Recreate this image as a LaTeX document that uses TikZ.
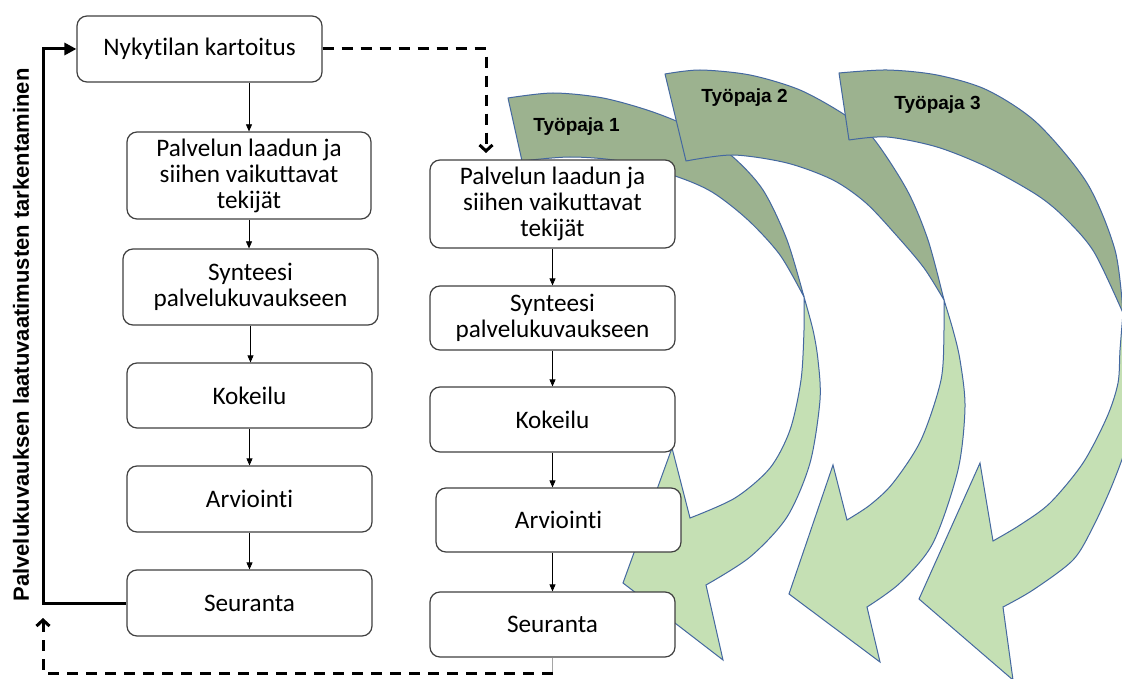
\documentclass[tikz,border=0pt]{standalone}
\usepackage{fontspec}
\setmainfont{Carlito}[Ligatures={NoCommon}]
\newfontfamily\headfont{Liberation Sans}
\usetikzlibrary{arrows.meta}
\definecolor{dkgreen}{RGB}{156,178,143}
\definecolor{ltgreen}{RGB}{197,224,180}
\definecolor{edgeblue}{RGB}{68,104,160}
\definecolor{boxline}{RGB}{64,64,64}
\definecolor{stubgray}{RGB}{165,165,165}

\begin{document}
\begin{tikzpicture}[x=1pt,y=-1pt,
  bandback/.style={fill=dkgreen, draw=edgeblue, line width=1pt, line join=round},
  bandfront/.style={fill=ltgreen, draw=edgeblue, line width=1pt, line join=miter},
  wslabel/.style={font=\headfont\bfseries\fontsize{19}{21}\selectfont},
  stepbox/.style={draw=boxline, fill=white, line width=1.2pt, rounded corners=10pt,
    align=center, inner sep=0pt, font=\fontsize{25.2}{26}\selectfont},
  flow/.style={line width=0.7pt, -{Triangle[length=7pt,width=6pt]}},
  loopline/.style={line width=3pt, line join=miter, -{Triangle[length=12pt,width=12pt]}},
  fbdash/.style={line width=3pt, dash pattern=on 11pt off 8pt,
    -{Straight Barb[length=6pt,width=13pt]}},
]
\useasboundingbox (0,0) rectangle (1122,679);
\fill[white] (0,0) rectangle (1122,679);

% three workshop arrows, each a dark back band and a light front band
\begin{scope}
\clip (0,0) rectangle (1122,679);
% workshop 1
\path[bandback] (508,98) -- plot[smooth] coordinates {(508,98) (553,93) (603,98) (653,112) (695,130) (733,157) (763,190) (787,240) (804,297)}
  -- plot[smooth] coordinates {(804,297) (780,255) (748,220) (712,192) (675,176) (620,161) (570,157) (522,161)} -- cycle;
\path[bandfront] (804,297) -- plot[smooth] coordinates {(804,297) (804,330) (801,380) (790,430) (770,468) (735,498) (690,518)}
  -- (672,448) -- (623,583) -- (723,660) -- (706,585)
  -- plot[smooth] coordinates {(706,585) (750,557) (787,517) (810,463) (820,400) (818,360) (813,330) (804,297)} -- cycle;
% workshop 2
\path[bandback] (665,74) -- plot[smooth] coordinates {(665,74) (700,70) (750,75) (800,90) (845,115) (873,138) (907,190) (928,240) (944,300)}
  -- plot[smooth] coordinates {(944,300) (924,268) (897,236) (866,203) (833,180) (787,163) (733,155) (686,161)} -- cycle;
\path[bandfront] (944,300) -- plot[smooth] coordinates {(944,300) (944,330) (941,380) (921,440) (893,483) (870,505) (847,520)}
  -- (833,465) -- (789,594) -- (880,662) -- (867,607)
  -- plot[smooth] coordinates {(867,607) (900,583) (933,543) (958,470) (965,407) (960,360) (953,330) (944,300)} -- cycle;
% workshop 3
\path[bandback] (839,73) -- plot[smooth] coordinates {(839,73) (887,70) (937,75) (987,90) (1037,123) (1087,183) (1115,250) (1123,313)}
  -- plot[smooth] coordinates {(1123,313) (1094,252) (1065,218) (1037,195) (987,167) (937,147) (887,137) (849,140)} -- cycle;
\path[bandfront] (1123,313) -- plot[smooth] coordinates {(1123,313) (1120,350) (1118,383) (1107,417) (1083,463) (1050,503) (1020,525) (993,541)}
  -- (980,463) -- (919,599) -- (1013,680) -- (1003,607)
  -- plot[smooth] coordinates {(1003,607) (1033,590) (1073,560) (1093,527) (1113,483) (1128,440) (1136,390) (1132,345) (1123,313)} -- cycle;
\end{scope}

\node[wslabel] (w1) at (576.5,127) {Työpaja 1};
\node[wslabel] (w2) at (744.5,98) {Työpaja 2};
\node[wslabel] (w3) at (937.5,105) {Työpaja 3};

% first round
\node[stepbox, minimum width=245pt, minimum height=66pt] (l1) at (199.5,49) {Nykytilan kartoitus};
\node[stepbox, minimum width=244pt, minimum height=87pt] (l2) at (249,175.5) {Palvelun laadun ja\\siihen vaikuttavat\\tekijät};
\node[stepbox, minimum width=255pt, minimum height=76pt] (l3) at (250.5,287) {Synteesi\\palvelukuvaukseen};
\node[stepbox, minimum width=245pt, minimum height=65pt] (l4) at (249.5,395.5) {Kokeilu};
\node[stepbox, minimum width=245pt, minimum height=66pt] (l5) at (249.5,499) {Arviointi};
\node[stepbox, minimum width=245pt, minimum height=66pt] (l6) at (249.5,603) {Seuranta};

% second round
\node[stepbox, minimum width=245pt, minimum height=88pt] (r1) at (552.5,204) {Palvelun laadun ja\\siihen vaikuttavat\\tekijät};
\node[stepbox, minimum width=245pt, minimum height=64pt] (r2) at (552.5,318) {Synteesi\\palvelukuvaukseen};
\node[stepbox, minimum width=245pt, minimum height=65pt] (r3) at (552.5,419.5) {Kokeilu};
\node[stepbox, minimum width=245pt, minimum height=64pt] (r4) at (558.5,520) {Arviointi};
\node[stepbox, minimum width=245pt, minimum height=65pt] (r5) at (552.5,624.5) {Seuranta};

% step-to-step connectors
\draw[flow] (l1.south -| l2.north) -- (l2.north);
\draw[flow] (l2.south) -- (l2.south |- l3.north);
\draw[flow] (l3.south) -- (l3.south |- l4.north);
\draw[flow] (l4.south) -- (l4.south |- l5.north);
\draw[flow] (l5.south) -- (l5.south |- l6.north);
\draw[flow] (r1.south) -- (r1.south |- r2.north);
\draw[flow] (r2.south) -- (r2.south |- r3.north);
\draw[flow] (r3.south) -- (r3.south |- r4.north);
\draw[flow] (r4.south -| r3.south) -- (r3.south |- r5.north);

% feedback loop back to the start
\coordinate (lt) at (43,49);
\draw[loopline] (l6.west) -- (l6.west -| lt) -- (lt) -- (l1.west);

% dashed hand-over to the second round
\coordinate (dtop) at (486,49);
\coordinate (dend) at (486,153);
\draw[fbdash] (l1.east) -- (dtop) -- (dend);

% dashed return from the second round
\coordinate (bturn) at (552.5,673);
\coordinate (bcorner) at (43,673);
\coordinate (bend) at (43,618);
\draw[stubgray, line width=0.8pt] (r5.south) -- (bturn);
\draw[fbdash] (bturn) -- (bcorner) -- (bend);

\node[rotate=90, font=\headfont\bfseries\fontsize{22}{26}\selectfont] (side) at (21,335)
  {Palvelukuvauksen laatuvaatimusten tarkentaminen};
\end{tikzpicture}
\end{document}
